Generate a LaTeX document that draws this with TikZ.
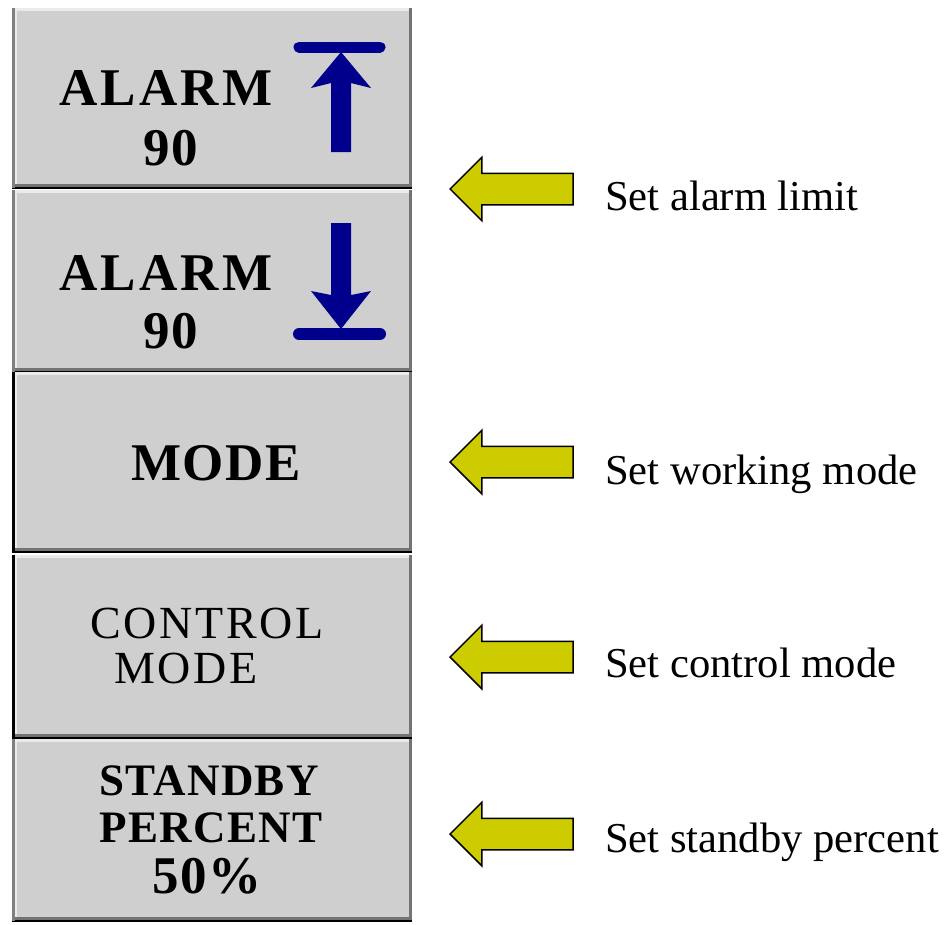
\documentclass[tikz,border=0pt]{standalone}
\usepackage{fontspec}
\setmainfont{Liberation Serif}
\newfontfamily\keyfont[LetterSpace=3]{Liberation Serif}
\newfontfamily\keywidefont[LetterSpace=6]{Liberation Serif}
\usepackage{tikz}
\definecolor{buttongray}{rgb}{0.81, 0.81, 0.81}
\definecolor{edgelight}{rgb}{0.92, 0.92, 0.92}
\definecolor{edgedark}{rgb}{0.45, 0.45, 0.45}
\definecolor{alarmblue}{rgb}{0.0, 0.0, 0.55}
\definecolor{hintyellow}{rgb}{0.8, 0.8, 0.0}
\usetikzlibrary{shapes.arrows}

\begin{document}
\begin{tikzpicture}[x=1pt,y=-1pt,
    button/.style={fill=buttongray, rectangle, minimum width=400pt, inner sep=0pt},
    keybig/.style={font=\keyfont\bfseries\fontsize{53}{53}\selectfont, inner sep=0pt, anchor=base},
    keysmall/.style={font=\keyfont\bfseries\fontsize{45}{45}\selectfont, inner sep=0pt, anchor=base},
    keyplain/.style={font=\keywidefont\fontsize{46}{46}\selectfont, inner sep=0pt, anchor=base},
    hint/.style={single arrow, shape border rotate=180, fill=hintyellow, draw=black, line width=1.5pt,
        minimum height=123pt, minimum width=62pt, inner xsep=0pt, inner ysep=15pt,
        single arrow head extend=16pt, anchor=tip},
    hinttext/.style={font=\fontsize{42.6}{50}\selectfont, inner sep=0pt, anchor=base west}]
            \useasboundingbox[fill=white] (0,0) rectangle (945,924);
            % 
            \node[button, minimum height=180pt] (btnA) at (212,98) {};
            \node[button, minimum height=182pt] (btnB) at (212,281) {};
            \node[button, minimum height=180pt] (btnC) at (212,462) {};
            \node[button, minimum height=183pt] (btnD) at (212,646.5) {};
            \node[button, minimum height=182pt] (btnE) at (212,830) {};
            
            \foreach \b/\c in {btnA/gray,btnB/gray,btnC/black,btnD/black,btnE/gray}{
              \draw[edgelight, line width=3pt] ([xshift=4pt]\b.south west) -- ([xshift=4pt,yshift=-2pt]\b.north west) -- ([yshift=-2pt]\b.north east);
              \draw[edgedark, line width=3pt] ([xshift=-2pt]\b.north east) -- ([xshift=-2pt,yshift=2.5pt]\b.south east) -- ([yshift=2.5pt]\b.south west);
              \draw[black, line width=1.5pt] (\b.south west) -- (\b.south east);
              \draw[\c, line width=3pt] ([xshift=1.5pt]\b.north west) -- ([xshift=1.5pt]\b.south west);
            }
            
            % 
            \node[keybig] (alarmUp) at (166,105) {\addfontfeature{LetterSpace=6}ALARM};
            \node[keybig] (limitUp) at (171,165) {90};
            \node[keybig] (alarmDn) at (166,290) {\addfontfeature{LetterSpace=6}ALARM};
            \node[keybig] (limitDn) at (171,348) {90};
            \node[keybig] (mode) at (216,480) {MODE};
            \node[keyplain] (ctrl) at (207,638) {CONTROL};
            \node[keyplain] (ctrlMode) at (186,683) {MODE};
            \node[keysmall] (standby) at (209,795) {STANDBY};
            \node[keysmall] (percent) at (211,842) {PERCENT};
            \node[keybig] (pct) at (207,893) {50\%};
            
            % 
            \draw[alarmblue, line width=11pt, line cap=round] (299,47) -- (380,47);
            \fill[alarmblue] (341,52) -- (371,88) -- (351,83) -- (351,152) -- (331,152) -- (331,83) -- (311,88) -- cycle;
            \draw[alarmblue, line width=12pt, line cap=round] (299,334) -- (380,334);
            \fill[alarmblue] (331,223) -- (351,223) -- (351,295) -- (371,291) -- (341,329) -- (311,291) -- (331,295) -- cycle;
            
            % 
            \node[hint] (arrA) at (449,189) {};
            \node[hint] (arrB) at (449,462) {};
            \node[hint] (arrC) at (449,657) {};
            \node[hint] (arrD) at (449,834) {};
            
            \node[hinttext] (setA) at (605,210) {Set alarm limit};
            \node[hinttext] (setB) at (605,484) {Set working mode};
            \node[hinttext] (setC) at (605,677) {Set control mode};
            \node[hinttext] (setD) at (605,852) {Set standby percent};
            
\end{tikzpicture}
\end{document}
